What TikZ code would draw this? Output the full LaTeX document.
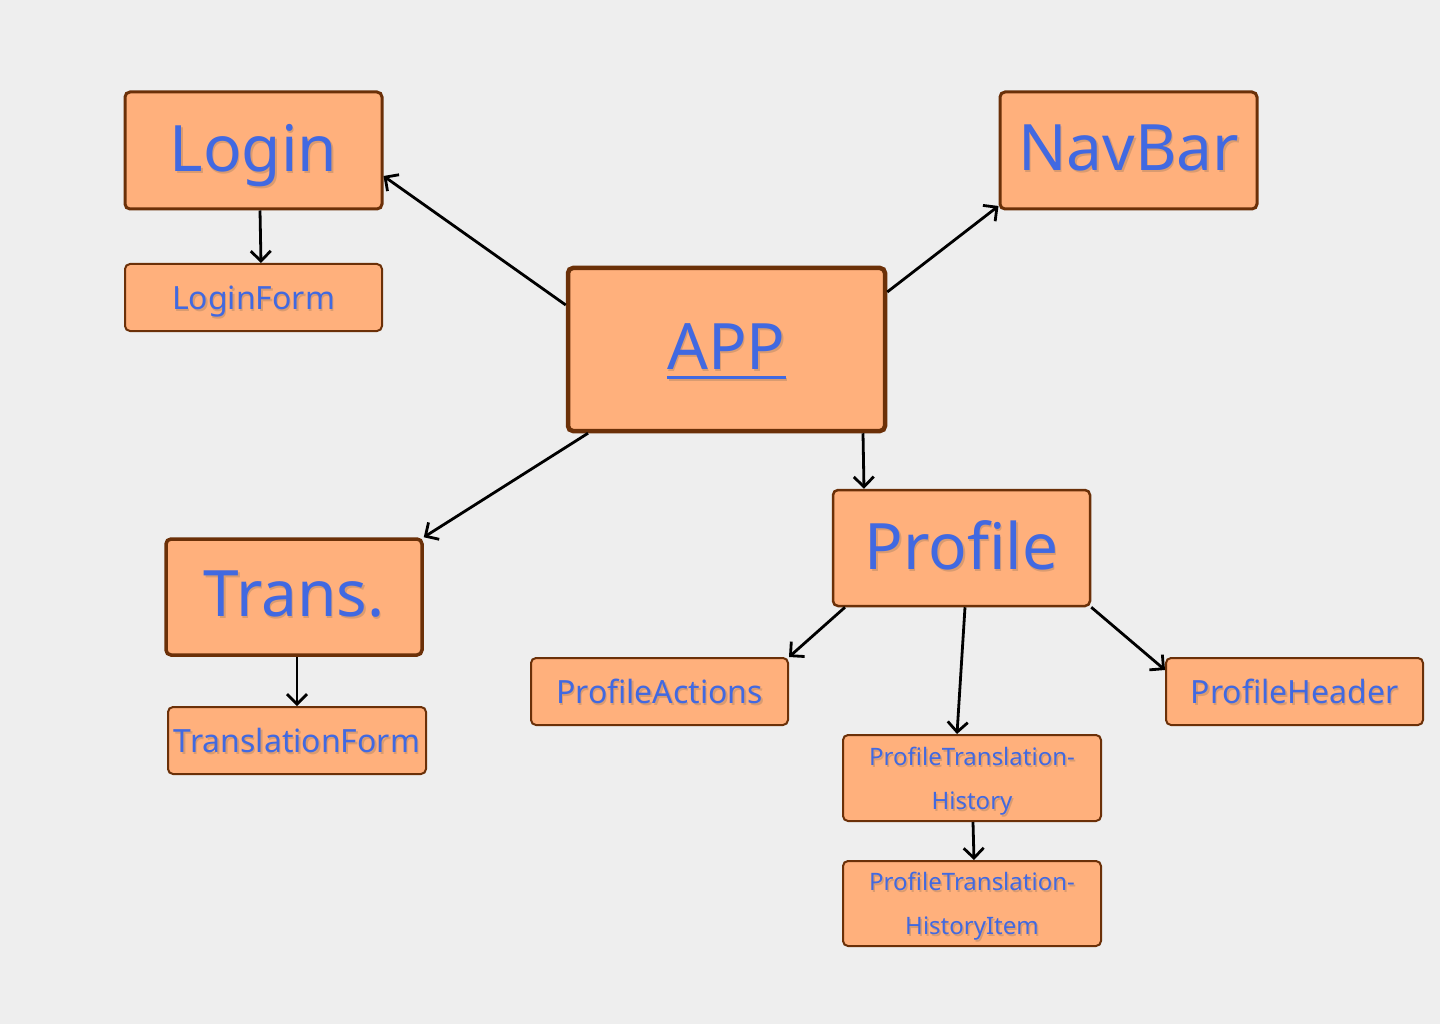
\documentclass[tikz,border=0pt]{standalone}
\usepackage{fontspec}
\setmainfont{Noto Sans}
\usetikzlibrary{arrows.meta}
\definecolor{bg}{HTML}{EEEEEE}
\definecolor{boxfill}{HTML}{FFB07C}
\definecolor{boxline}{HTML}{6B3008}
\definecolor{txt}{HTML}{4169E1}
\definecolor{txtshadow}{HTML}{D99B70}
\newcommand\shtext[1]{\leavevmode\rlap{\hspace{1.5pt}\raisebox{-2pt}{\color{txtshadow}#1}}#1}
\newcommand\appul[1]{\setbox0\hbox{#1}\rlap{\rule[-10pt]{\wd0}{3pt}}\box0}
\tikzset{
  box/.style={draw=boxline, fill=boxfill, rounded corners=5pt, inner sep=0pt, text=txt, align=center},
  big/.style={box, text depth=6pt, font=\fontsize{64}{70}\selectfont},
  mid/.style={box, line width=2pt, text depth=0pt, font=\fontsize{32}{36}\selectfont},
  small/.style={box, line width=2pt, text depth=0pt, font=\fontsize{24}{44}\selectfont},
  conn/.style={line width=2.8pt, -{Straight Barb[length=10pt,width=20pt,line width=2.8pt]}}
}
\begin{document}
\begin{tikzpicture}[x=1pt,y=-1pt]
\fill[bg] (0,0) rectangle (1440,1024);
\useasboundingbox (0,0) rectangle (1440,1024);
\node[big, line width=3pt, minimum width=257pt, minimum height=117pt] (login) at (253.5,150.5) {\shtext{Login}};
\node[mid, minimum width=257pt, minimum height=67pt] (loginform) at (253.5,297.5) {\shtext{LoginForm}};
\node[big, line width=3pt, minimum width=257pt, minimum height=117pt] (navbar) at (1128.5,150.5) {\shtext{NavBar}};
\node[big, line width=4.5pt, minimum width=317pt, minimum height=163pt] (app) at (726.5,349.5) {\shtext{\appul{APP}}};
\node[big, line width=3.5pt, minimum width=256pt, minimum height=116pt] (trans) at (294,597) {\shtext{Trans.}};
\node[mid, minimum width=258pt, minimum height=67pt] (tform) at (297,740.5) {\shtext{TranslationForm}};
\node[big, line width=2.5pt, minimum width=257pt, minimum height=116pt] (profile) at (961.5,548) {\shtext{Profile}};
\node[mid, minimum width=257pt, minimum height=67pt] (pactions) at (659.5,691.5) {\shtext{ProfileActions}};
\node[mid, minimum width=257pt, minimum height=67pt] (pheader) at (1294.5,691.5) {\shtext{ProfileHeader}};
\node[small, minimum width=258pt, minimum height=86pt] (pth) at (972,778) {\shtext{ProfileTranslation-}\\\shtext{History}};
\node[small, minimum width=258pt, minimum height=85pt] (pthi) at (972,903.5) {\shtext{ProfileTranslation-}\\\shtext{HistoryItem}};
\draw[conn] (app.west |- 0,305) -- (login.east |- 0,176);
\draw[conn] (login.south -| 260,0) -- (loginform.north -| 261,0);
\draw[conn] (app.east |- 0,292) -- (navbar.south west |- 0,206);
\draw[conn] (app.south -| 588,0) -- (trans.north east);
\draw[conn] (trans.south -| 297,0) -- (tform.north -| 297,0);
\draw[conn] (app.south -| 863,0) -- (profile.north -| 864,0);
\draw[conn] (profile.south -| 845,0) -- (pactions.north east);
\draw[conn] (profile.south -| 965,0) -- (pth.north -| 957,0);
\draw[conn] (profile.south east) -- (pheader.north west |- 0,670);
\draw[conn] (pth.south -| 973,0) -- (pthi.north -| 974,0);
\end{tikzpicture}
\end{document}
